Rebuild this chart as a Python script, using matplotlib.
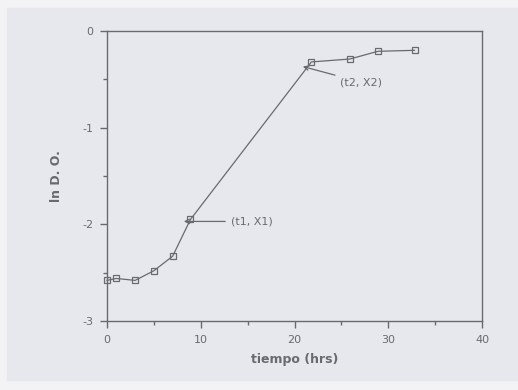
import numpy as np
import matplotlib.pyplot as plt
from matplotlib.patches import Rectangle

plt.rcParams['axes.unicode_minus'] = False

# data
tiempo = [0, 1, 3, 5, 7, 8.9, 21.8, 25.9, 28.9, 32.8]
ln_do = [-2.58, -2.56, -2.58, -2.48, -2.33, -1.95, -0.32, -0.29, -0.21, -0.20]

x_ticks = [0, 10, 20, 30, 40]
y_ticks = [0, -1, -2, -3]

gray = "#6a6a6e"
bg = "#e7e8ee"

fig = plt.figure(figsize=(5.18, 3.9), dpi=100, facecolor="#f3f3f6")
fig.patches.append(Rectangle((7 / 518, 1 - 380 / 390), 1, 372 / 390,
                             transform=fig.transFigure, color=bg, zorder=-10))

ax = fig.add_axes([107 / 518, 1 - 321 / 390, 375 / 518, 290 / 390])
ax.set_facecolor(bg)

ax.plot(tiempo, ln_do, color=gray, lw=0.9, marker="s", ms=5,
        mfc="none", mec=gray, mew=0.9, clip_on=False)

ax.set_xlim(0, 40)
ax.set_ylim(-3, 0)
ax.set_xticks(x_ticks)
ax.set_yticks(y_ticks)
ax.set_xticks([5, 15, 25, 35], minor=True)
ax.set_yticks([-0.5, -1.5, -2.5], minor=True)
ax.tick_params(which="major", direction="out", length=5, width=1, color=gray,
               labelcolor=gray, labelsize=8, pad=5)
ax.tick_params(which="minor", direction="out", length=3, width=1, color=gray)
for s in ax.spines.values():
    s.set_color(gray)
    s.set_linewidth(1)

ax.set_xlabel("tiempo (hrs)", color=gray, fontsize=9, fontweight="bold", labelpad=6)
ax.set_ylabel("ln D. O.", color=gray, fontsize=9, fontweight="bold", labelpad=14)

ax.annotate("(t1, X1)", xy=(7.9, -1.97), xytext=(13.2, -1.97),
            color=gray, fontsize=8, va="center", ha="left",
            arrowprops=dict(arrowstyle="->", color=gray, lw=0.9))
ax.annotate("(t2, X2)", xy=(20.6, -0.36), xytext=(24.9, -0.53),
            color=gray, fontsize=8, va="center", ha="left",
            arrowprops=dict(arrowstyle="->", color=gray, lw=0.9))

fig.savefig("out.png", dpi=100, facecolor=fig.get_facecolor())
